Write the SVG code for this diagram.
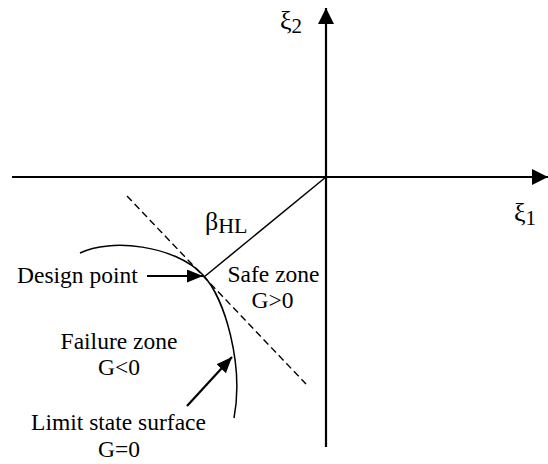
<svg xmlns="http://www.w3.org/2000/svg" width="548" height="464" viewBox="0 0 548 464">
  <style>
    text { font-family: "Liberation Serif", "Times New Roman", serif; font-size: 23.5px; fill: #000; }
    .mid { text-anchor: middle; }
    .greek { font-size: 26px; }
    .axis { stroke: #000; stroke-width: 2.2; fill: none; }
    .thin { stroke: #000; stroke-width: 1.5; fill: none; }
    .dash { stroke: #000; stroke-width: 1.4; fill: none; stroke-dasharray: 7 4; }
    .ptr { stroke: #000; stroke-width: 2.2; fill: none; }
  </style>
  <defs>
    <marker id="axHead" viewBox="0 0 16 16" refX="16" refY="8" markerWidth="16" markerHeight="16" markerUnits="userSpaceOnUse" orient="auto">
      <path d="M0,0 L16,8 L0,16 z" fill="#000"/>
    </marker>
    <marker id="ptrHead" viewBox="0 0 16 13" refX="16" refY="6.5" markerWidth="16" markerHeight="13" markerUnits="userSpaceOnUse" orient="auto">
      <path d="M0,0 L16,6.5 L0,13 z" fill="#000"/>
    </marker>
  </defs>

  <g id="axes">
    <line class="axis" x1="12" y1="177" x2="548" y2="177" marker-end="url(#axHead)"/>
    <line class="axis" x1="326" y1="447" x2="326" y2="8" marker-end="url(#axHead)"/>
  </g>

  <g id="limit-state-curve">
    <path class="thin" d="M80,253 C110,238 175,245 203,275 C225,298 244,365 234,418"/>
  </g>

  <g id="connectors">
    <line class="thin" x1="326" y1="177" x2="204" y2="277"/>
    <line class="dash" x1="127" y1="196" x2="306" y2="384"/>
    <line class="ptr" x1="147" y1="276" x2="203" y2="276" marker-end="url(#ptrHead)"/>
    <line class="ptr" x1="187" y1="406" x2="232" y2="357" marker-end="url(#ptrHead)"/>
  </g>

  <g id="label-xi2"><text class="greek" x="280" y="29">ξ<tspan font-size="21" dy="4">2</tspan></text></g>
  <g id="label-xi1"><text class="greek" x="514" y="221">ξ<tspan font-size="21" dy="4">1</tspan></text></g>
  <g id="label-beta"><text class="greek" x="205" y="230" font-size="27">β<tspan font-size="22" dy="3">HL</tspan></text></g>
  <g id="label-design"><text x="17" y="283">Design point</text></g>
  <g id="label-safe">
    <text class="mid" x="273.5" y="282">Safe zone</text>
    <text class="mid" x="272.5" y="308">G&gt;0</text>
  </g>
  <g id="label-failure">
    <text class="mid" x="119" y="349">Failure zone</text>
    <text class="mid" x="119" y="375">G&lt;0</text>
  </g>
  <g id="label-limit">
    <text class="mid" x="118.5" y="430">Limit state surface</text>
    <text class="mid" x="119" y="457">G=0</text>
  </g>
</svg>
